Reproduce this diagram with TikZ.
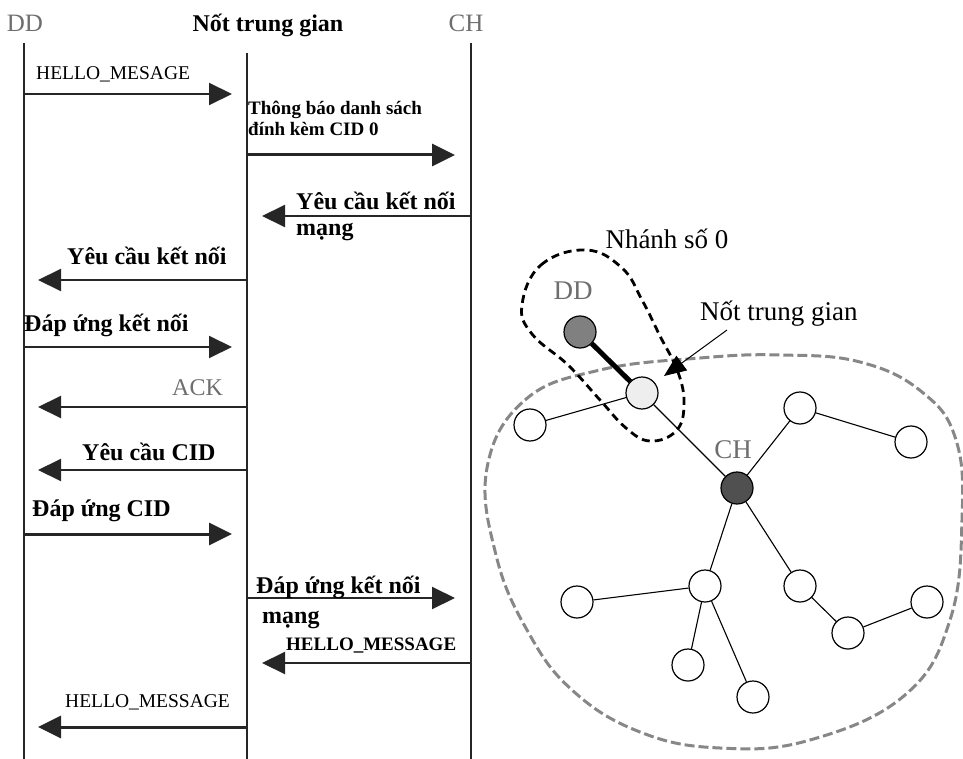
\documentclass[tikz,border=0pt]{standalone}
\usepackage{fontspec}
\setmainfont{Liberation Serif}
\usetikzlibrary{arrows.meta}
\definecolor{hdrgray}{RGB}{110,110,110}
\definecolor{blobgray}{RGB}{135,135,135}
\definecolor{ddfill}{RGB}{128,128,128}
\definecolor{chfill}{RGB}{80,80,80}
\definecolor{inner}{RGB}{238,238,238}
\begin{document}
\begin{tikzpicture}[x=1pt,y=-1pt,
  life/.style={line width=1.3pt, draw=black!85},
  msg/.style={line width=2pt, draw=black!85, -{Triangle[length=23pt,width=22pt]}},
  msgthick/.style={msg, line width=3pt},
  lblb/.style={anchor=base west, inner sep=0pt, font=\fontsize{24}{28}\selectfont\bfseries},
  lblsb/.style={anchor=base west, inner sep=0pt, font=\fontsize{19}{22}\selectfont\bfseries},
  lblr/.style={anchor=base west, inner sep=0pt, font=\fontsize{19.5}{22}\selectfont},
  hdr/.style={anchor=base, inner sep=0pt, font=\fontsize{25}{28}\selectfont, text=hdrgray},
  tnode/.style={circle, draw, line width=1.2pt, minimum size=32pt, inner sep=0pt, fill=white},
  tedge/.style={line width=1.1pt},
  rtext/.style={inner sep=0pt, font=\fontsize{27}{30}\selectfont},
]
\useasboundingbox (0,0) rectangle (963,759);

% ---------- headers and lifelines ----------
\node[hdr] (hdd) at (25,32) {DD};
\node[hdr, text=black, font=\fontsize{24}{28}\selectfont\bfseries] (hmid) at (268,32) {Nốt trung gian};
\node[hdr] (hch) at (466,32) {CH};

\coordinate (ddtop) at (24,43);   \coordinate (ddbot) at (24,759);
\coordinate (mitop) at (247,53);  \coordinate (mibot) at (247,759);
\coordinate (chtop) at (471,43);  \coordinate (chbot) at (471,759);
\draw[life] (ddtop) -- (ddbot);
\draw[life] (mitop) -- (mibot);
\draw[life] (chtop) -- (chbot);

% ---------- message coordinates ----------
\coordinate (m1a) at (24,94);   \coordinate (m1b) at (232,94);
\coordinate (m2a) at (247,155); \coordinate (m2b) at (455,155);
\coordinate (m3a) at (471,216); \coordinate (m3b) at (262,216);
\coordinate (m4a) at (247,280); \coordinate (m4b) at (38,280);
\coordinate (m5a) at (24,347);  \coordinate (m5b) at (232,347);
\coordinate (m6a) at (247,407); \coordinate (m6b) at (38,407);
\coordinate (m7a) at (247,470); \coordinate (m7b) at (38,470);
\coordinate (m8a) at (24,534);  \coordinate (m8b) at (232,534);
\coordinate (m9a) at (247,598); \coordinate (m9b) at (455,598);
\coordinate (m10a) at (471,663); \coordinate (m10b) at (262,663);
\coordinate (m11a) at (247,727); \coordinate (m11b) at (38,727);

\draw[msg] (m1a) -- (m1b);
\draw[msgthick] (m2a) -- (m2b);
\draw[msg] (m3a) -- (m3b);
\draw[msg] (m4a) -- (m4b);
\draw[msg] (m5a) -- (m5b);
\draw[msg] (m6a) -- (m6b);
\draw[msg] (m7a) -- (m7b);
\draw[msgthick] (m8a) -- (m8b);
\draw[msg] (m9a) -- (m9b);
\draw[msg] (m10a) -- (m10b);
\draw[msgthick] (m11a) -- (m11b);

% ---------- message labels ----------
\node[lblr] (l1) at (36,80) {HELLO\_MESAGE};
\node[lblsb] (l2a) at (248,115) {Thông báo danh sách};
\node[lblsb] (l2b) at (248,136) {đính kèm CID 0};
\node[lblb] (l3a) at (296,210) {Yêu cầu kết nối};
\node[lblb] (l3b) at (296,236) {mạng};
\node[lblb] (l4) at (67,265) {Yêu cầu kết nối};
\node[lblb] (l5) at (24,331) {Đáp ứng kết nối};
\node[lblr, font=\fontsize{24}{28}\selectfont, text=hdrgray] (l6) at (172,395) {ACK};
\node[lblb] (l7) at (82,460) {Yêu cầu CID};
\node[lblb] (l8) at (32,516) {Đáp ứng CID};
\node[lblb] (l9a) at (256,593) {Đáp ứng kết nối};
\node[lblb] (l9b) at (262,623) {mạng};
\node[lblsb] (l10) at (286,650) {HELLO\_MESSAGE};
\node[lblr] (l11) at (65,707) {HELLO\_MESSAGE};

% ---------- right: cluster ----------
\draw[blobgray, line width=3pt, dash pattern=on 10pt off 4pt]
  plot[smooth cycle, tension=0.7] coordinates {
  (487,468) (525,400) (600,370) (700,358) (780,355) (860,362) (922,392)
  (956,440) (962,520) (950,620) (905,695) (810,740) (720,748) (640,732)
  (572,690) (527,630) (496,555)};

% dashed loop "Nhanh so 0"
\draw[black, line width=2.8pt, dash pattern=on 8pt off 5pt]
  plot[smooth cycle, tension=0.7] coordinates {
  (522,305) (541,265) (586,250) (622,268) (642,300) (660,336) (678,372)
  (684,405) (676,431) (650,441) (626,428) (600,400) (568,365) (532,334)};

% tree nodes
\node[tnode, fill=ddfill] (dd) at (580,332) {};
\node[tnode, fill=inner] (nt) at (642,393) {};
\node[tnode] (n1) at (530,425) {};
\node[tnode, fill=chfill] (ch) at (737,488) {};
\node[tnode] (n2) at (800,408) {};
\node[tnode] (n3) at (911,442) {};
\node[tnode] (n4) at (705,586) {};
\node[tnode] (n5) at (577,602) {};
\node[tnode] (n6) at (688,665) {};
\node[tnode] (n7) at (753,697) {};
\node[tnode] (n8) at (800,586) {};
\node[tnode] (n9) at (848,633) {};
\node[tnode] (n10) at (927,602) {};

\draw[line width=5pt] (dd) -- (nt);
\draw[tedge] (nt) -- (n1);
\draw[tedge] (nt) -- (ch);
\draw[tedge] (ch) -- (n2);
\draw[tedge] (n2) -- (n3);
\draw[tedge] (ch) -- (n4);
\draw[tedge] (n4) -- (n5);
\draw[tedge] (n4) -- (n6);
\draw[tedge] (n4) -- (n7);
\draw[tedge] (ch) -- (n8);
\draw[tedge] (n8) -- (n9);
\draw[tedge] (n9) -- (n10);

% labels right
\node[rtext, text=hdrgray, anchor=base] (ddl) at (573,299) {DD};
\node[rtext, text=hdrgray, anchor=base] (chl) at (733,458) {CH};
\node[rtext, anchor=base] (nh) at (667,248) {Nhánh số 0};
\node[rtext, anchor=base west] (ntl) at (700,320) {Nốt trung gian};
\coordinate (ptr) at (727,330);
\coordinate (ptrtip) at (664,376);
\draw[line width=1pt, -{Triangle[length=22pt,width=18pt]}] (ptr) -- (ptrtip);
\end{tikzpicture}
\end{document}
